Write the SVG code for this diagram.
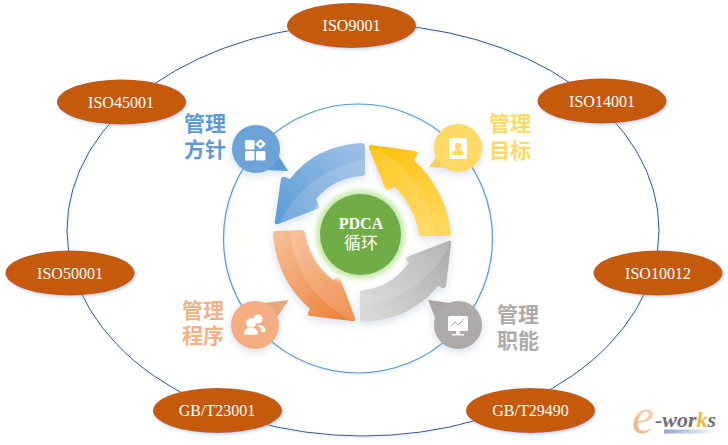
<svg xmlns="http://www.w3.org/2000/svg" width="728" height="445" viewBox="0 0 728 445">
<style>
.iso{fill:#c55a11;filter:url(#ns)}
.isot{font:16px "Liberation Serif","Noto Sans CJK SC",serif;fill:#fff;text-anchor:middle}
.ring{fill:none;stroke:#2f5597;stroke-width:1;filter:url(#rg)}
.lab{font:bold 21px "Liberation Sans","Noto Sans CJK SC",sans-serif;text-anchor:middle}
.ic{fill:#fff}
</style>
<defs>
<filter id="ns" x="-20%" y="-30%" width="140%" height="160%"><feDropShadow dx="1" dy="1.500" stdDeviation="1.500" flood-color="#8db4e2" flood-opacity=".6"/></filter>
<filter id="rg" x="-5%" y="-5%" width="110%" height="110%"><feDropShadow dx="0.500" dy="1" stdDeviation="1" flood-color="#9dc3e6" flood-opacity=".5"/></filter>
<filter id="soft" x="-30%" y="-30%" width="160%" height="160%"><feDropShadow dx="0" dy="3" stdDeviation="4" flood-color="#8fa6c4" flood-opacity=".35"/></filter>
<filter id="glow" x="-30%" y="-30%" width="160%" height="160%"><feGaussianBlur stdDeviation="2.500"/></filter>
<linearGradient id="gb" x1="1" y1="0" x2="0" y2="1"><stop offset="0" stop-color="#9fc1e6"/><stop offset="1" stop-color="#5b9bd5"/></linearGradient>
<linearGradient id="gy" x1="1" y1="1" x2="0" y2="0"><stop offset="0" stop-color="#ffd966"/><stop offset="1" stop-color="#ffc000"/></linearGradient>
<linearGradient id="go" x1="0" y1="0" x2="1" y2="1"><stop offset="0" stop-color="#f6c09a"/><stop offset="1" stop-color="#ed7d31"/></linearGradient>
<linearGradient id="gg" x1="0" y1="1" x2="1" y2="0"><stop offset="0" stop-color="#dcdcdc"/><stop offset="1" stop-color="#a9a9a9"/></linearGradient>
<linearGradient id="bar"><stop offset="0" stop-color="#8fa3d6"/><stop offset="1" stop-color="#8fa3d6" stop-opacity="0"/></linearGradient>
<linearGradient id="ge" x1="0" y1="1" x2="1" y2="0"><stop offset="0" stop-color="#f4a970"/><stop offset="1" stop-color="#fbe3d0"/></linearGradient>
</defs>
<rect width="728" height="445" fill="#fff"/>

<g id="connectors">
<ellipse class="ring" cx="363" cy="230" rx="296" ry="206"/>
<circle cx="358" cy="238.500" r="134.500" fill="none" stroke="#5b9bd5" stroke-width="1.200" filter="url(#rg)"/>
</g>

<g id="arrow-blue" filter="url(#soft)">
<path d="M361 143Q365 143 365 147L365 173Q365 176 361 176Q334 178 316 199L319 206Q320 208 317 209L278 224Q274 225 275 221L281 179Q282 176 285 177L290 179Q315 146 361 143Z" fill="url(#gb)"/>
<path d="M365 159L365 173Q365 176 361 176Q334 178 316 199L319 206Q320 208 317 209L280 223Q304 172 365 159Z" fill="#fff" fill-opacity=".14"/>
</g>
<g id="arrow-yellow" filter="url(#soft)">
<path d="M372 145L415 151Q418 152 417 155L414 160Q446 190 451 233Q451 236 448 236L421 236Q419 236 419 234Q415 208 395 187L388 190Q385 190 385 188L369 148Q368 145 372 145Z" fill="url(#gy)"/>
<path d="M380 150Q428 180 435 236L421 236Q419 236 419 234Q415 208 395 187L388 190Q385 190 385 188L371 150Z" fill="#fff" fill-opacity=".12"/>
</g>
<g id="arrow-orange" filter="url(#soft)">
<path d="M276 231L302 230Q305 231 305 234Q310 261 333 280L337 277Q339 275 340 278L355 318Q356 322 352 321L310 316Q307 315 308 312L310 309Q277 280 273 235Q273 231 276 231Z" fill="url(#go)"/>
<path d="M290 231L302 230Q305 231 305 234Q310 261 333 280L337 277Q339 275 340 278L355 318Q356 322 352 321Q295 290 290 231Z" fill="#fff" fill-opacity=".15"/>
</g>
<g id="arrow-gray" filter="url(#soft)">
<path d="M407 257L448 241Q452 240 451 244L446 286Q445 289 442 288L438 286Q410 320 363 322Q360 322 360 319L360 293Q360 290 363 290Q390 288 409 263L406 260Q405 258 407 257Z" fill="url(#gg)"/>
<path d="M360 306Q420 300 451 243L448 241L407 257Q405 258 406 260L409 263Q390 288 363 290Q360 290 360 293Z" fill="#fff" fill-opacity=".14"/>
</g>

<g id="center">
<circle cx="360.500" cy="234.500" r="50" fill="#fff" filter="url(#glow)"/>
<circle cx="360.500" cy="234.500" r="44.500" fill="#c5e8a8" filter="url(#glow)"/>
<circle cx="360.500" cy="234.500" r="40.500" fill="#70ad47"/>
<text x="361" y="229" font-family="Liberation Serif,serif" font-weight="bold" font-size="16" fill="#fff" text-anchor="middle">PDCA</text>
<text x="361" y="249" font-family="Liberation Serif,Noto Sans CJK SC,serif" font-size="17" fill="#fff" text-anchor="middle">循环</text>
</g>

<g id="bubble-fangzhen">
<g filter="url(#soft)"><path d="M278 155L288 171L266 170Z" fill="#5b9bd5"/><circle cx="256" cy="149" r="24" fill="#6ea3d8"/></g>
<rect class="ic" x="245" y="140" width="9.500" height="9.500" rx="1.500"/><rect class="ic" x="245" y="151" width="9.500" height="9.500" rx="1.500"/><rect class="ic" x="256" y="151" width="9.500" height="9.500" rx="1.500"/>
<path class="ic" d="M260.500 139l5.500 5-5.500 5-5.500-5zM260.500 142l-2 2 2 2 2-2z" fill-rule="evenodd"/>
<text class="lab" x="205" y="131" fill="#5f9ad6">管理</text><text class="lab" x="205" y="157" fill="#5f9ad6">方针</text>
</g>
<g id="bubble-mubiao">
<g filter="url(#soft)"><path d="M440 152L429 167L448 168Z" fill="#f5cf6a"/><circle cx="458" cy="148" r="24" fill="#ffd966"/></g>
<rect class="ic" x="449" y="138" width="18" height="21" rx="1.500"/>
<circle cx="458" cy="146" r="3.200" fill="#ffd966"/><path d="M452 155q1-6 6-6t6 6z" fill="#ffd966"/>
<text class="lab" x="510" y="131" fill="#ffd966">管理</text><text class="lab" x="510" y="158" fill="#ffd966">目标</text>
</g>
<g id="bubble-chengxu">
<g filter="url(#soft)"><path d="M263 303L289 300L277 317Z" fill="#e8a67c"/><circle cx="255" cy="325" r="24" fill="#f4ae82"/></g>
<circle class="ic" cx="258" cy="319" r="4.500"/><path class="ic" d="M257 325q9-1 8.500 7h-4q0-4-4.500-7z"/>
<circle class="ic" cx="251" cy="323" r="5"/><path class="ic" d="M244 335q-1-7 7-8q8 1 7 8z" stroke="#f4ae82" stroke-width=".6"/>
<text class="lab" x="203" y="318" fill="#f4b183">管理</text><text class="lab" x="203" y="343" fill="#f4b183">程序</text>
</g>
<g id="bubble-zhineng">
<g filter="url(#soft)"><path d="M428 300L450 303L436 320Z" fill="#a9a5a5"/><circle cx="458" cy="325" r="24" fill="#aeaaaa"/></g>
<rect class="ic" x="448" y="316" width="20" height="15" rx="1.500"/>
<path d="M451 326l4-4 3 3 6-6" fill="none" stroke="#aeaaaa" stroke-width="1"/>
<path class="ic" d="M456 331h4v3h-4zM452 334h12v1.500h-12z"/>
<text class="lab" x="518" y="322" fill="#aeaaaa">管理</text><text class="lab" x="518" y="348" fill="#aeaaaa">职能</text>
</g>

<g id="iso9001"><ellipse class="iso" cx="351.500" cy="25.500" rx="64.500" ry="22.500"/><text class="isot" x="351.500" y="31">ISO9001</text></g>
<g id="iso45001"><ellipse class="iso" cx="121.500" cy="102" rx="64.500" ry="22.500"/><text class="isot" x="121" y="107.500">ISO45001</text></g>
<g id="iso14001"><ellipse class="iso" cx="602" cy="101" rx="64.500" ry="22.500"/><text class="isot" x="602" y="106.500">ISO14001</text></g>
<g id="iso50001"><ellipse class="iso" cx="70" cy="273" rx="64.500" ry="22.500"/><text class="isot" x="70" y="278.500">ISO50001</text></g>
<g id="iso10012"><ellipse class="iso" cx="658" cy="273" rx="64.500" ry="22.500"/><text class="isot" x="658" y="278.500">ISO10012</text></g>
<g id="gbt23001"><ellipse class="iso" cx="217.500" cy="410.500" rx="64.500" ry="22.500"/><text class="isot" x="217" y="416">GB/T23001</text></g>
<g id="gbt29490"><ellipse class="iso" cx="530.500" cy="410.500" rx="64.500" ry="22.500"/><text class="isot" x="530.500" y="416">GB/T29490</text></g>

<g id="logo">
<text x="632" y="433" font-family="Liberation Serif,serif" font-style="italic" font-size="50" fill="url(#ge)">e</text>
<rect x="664" y="429.500" width="52" height="4" fill="url(#bar)"/>
<text x="655" y="427" font-family="Liberation Serif,serif" font-style="italic" font-weight="bold" font-size="22" fill="#6f6f6f">-wor<tspan fill="#f7b733">k</tspan>s</text>
</g>
</svg>
